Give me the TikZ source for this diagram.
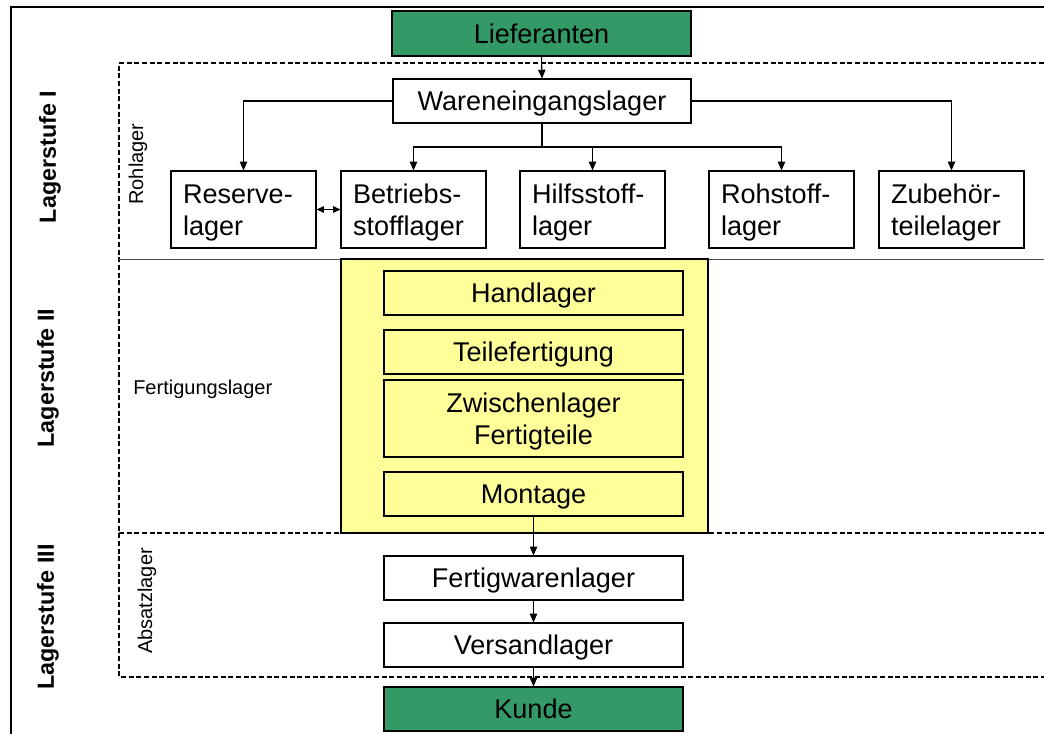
\documentclass[tikz,border=0pt]{standalone}
\usepackage{fontspec}
\setmainfont{Liberation Sans}
\usetikzlibrary{arrows.meta}
\definecolor{boxgreen}{HTML}{339966}
\definecolor{boxyellow}{HTML}{FFFF99}
\begin{document}
\begin{tikzpicture}[x=0.75pt,y=-0.75pt,
  box/.style={draw=black,line width=0.9pt,fill=white,inner sep=0pt,
    minimum width=224.25pt,minimum height=33pt,text depth=0pt,
    font=\fontsize{20.3}{24}\selectfont},
  greenbox/.style={box,fill=boxgreen},
  ybox/.style={box,fill=boxyellow},
  rowbox/.style={draw=black,line width=0.9pt,fill=white,inner xsep=9pt,inner ysep=0pt,
    minimum width=108.75pt,minimum height=57.75pt,text width=90.75pt,align=left,
    text height=17pt,text depth=26pt,font=\fontsize{20.3}{24}\selectfont},
  arr/.style={line width=0.8pt,-{Triangle[length=6.5pt,width=5.5pt]}},
  darr/.style={line width=0.8pt,{Triangle[length=5.5pt,width=5pt]}-{Triangle[length=5.5pt,width=5pt]}},
  sep/.style={line width=0.8pt,dash pattern=on 3.75pt off 2pt},
  stufe/.style={rotate=90,font=\fontsize{17.5}{20}\selectfont\bfseries},
  sublabel/.style={font=\fontsize{15}{18}\selectfont}
]
\useasboundingbox (0,0) rectangle (1044,734);
% outer frame
\draw[line width=1.6pt] (11,734) -- (11,7) -- (1044,7);
% section separators
\draw[sep] (1044,63) -- (119,63) -- (119,677) -- (1044,677);
\draw[line width=0.6pt,black!70] (119,259) -- (1044,259);
\draw[sep] (119,533) -- (1044,533);
% yellow production area
\node[draw=black,line width=0.9pt,fill=boxyellow,minimum width=275.25pt,minimum height=205.5pt,inner sep=0pt] (prod) at (524.5,396) {};
% top
\node[greenbox,minimum height=33.75pt] (lief) at (541.5,33.5) {Lieferanten};
\node[box,minimum width=223.5pt] (wel) at (542,101) {Wareneingangslager};
% row
\node[rowbox] (res) at (243.5,209.5) {Reserve-\\lager};
\node[rowbox] (bet) at (413.5,209.5) {Betriebs-\\stofflager};
\node[rowbox] (hil) at (592.5,209.5) {Hilfsstoff-\\lager};
\node[rowbox] (roh) at (781.5,209.5) {Rohstoff-\\lager};
\node[rowbox] (zub) at (951.5,209.5) {Zubehör-\\teilelager};
% production
\node[ybox] (hand) at (533.5,293) {Handlager};
\node[ybox] (teil) at (533.5,352) {Teilefertigung};
\node[ybox,minimum height=57.75pt,text width=224.25pt,align=center,text height=17pt,text depth=26pt] (zwi) at (533.5,418.5) {Zwischenlager\\Fertigteile};
\node[ybox] (mon) at (533.5,494) {Montage};
% bottom
\node[box] (fert) at (533.5,578) {Fertigwarenlager};
\node[box] (vers) at (533.5,645) {Versandlager};
\node[greenbox] (kunde) at (533.5,709) {Kunde};
% connectors
\coordinate (br) at (542,147);
\draw[arr] (lief.south) -- (wel.north);
\draw[arr] (wel.west) -| (res.north);
\draw[arr] (wel.east) -| (zub.north);
\draw[line width=0.8pt] (wel.south) -- (br);
\draw[arr] (br) -| (bet.north);
\draw[arr] (br) -| (roh.north);
\draw[arr] (hil.north |- br) -- (hil.north);
\draw[darr] (res.east) -- (bet.west);
\draw[arr] (mon.south) -- (fert.north);
\draw[arr] (fert.south) -- (vers.north);
\draw[arr] (vers.south) -- (kunde.north);
% labels
\node[stufe] (s1) at (50,157) {Lagerstufe I};
\node[stufe] (s2) at (48,378) {Lagerstufe II};
\node[stufe] (s3) at (48,617) {Lagerstufe III};
\node[sublabel,rotate=90] (l1) at (138,164) {Rohlager};
\node[sublabel,anchor=west,inner sep=0pt] (l2) at (133,389) {Fertigungslager};
\node[sublabel,rotate=90] (l3) at (147,601) {Absatzlager};
\end{tikzpicture}
\end{document}
